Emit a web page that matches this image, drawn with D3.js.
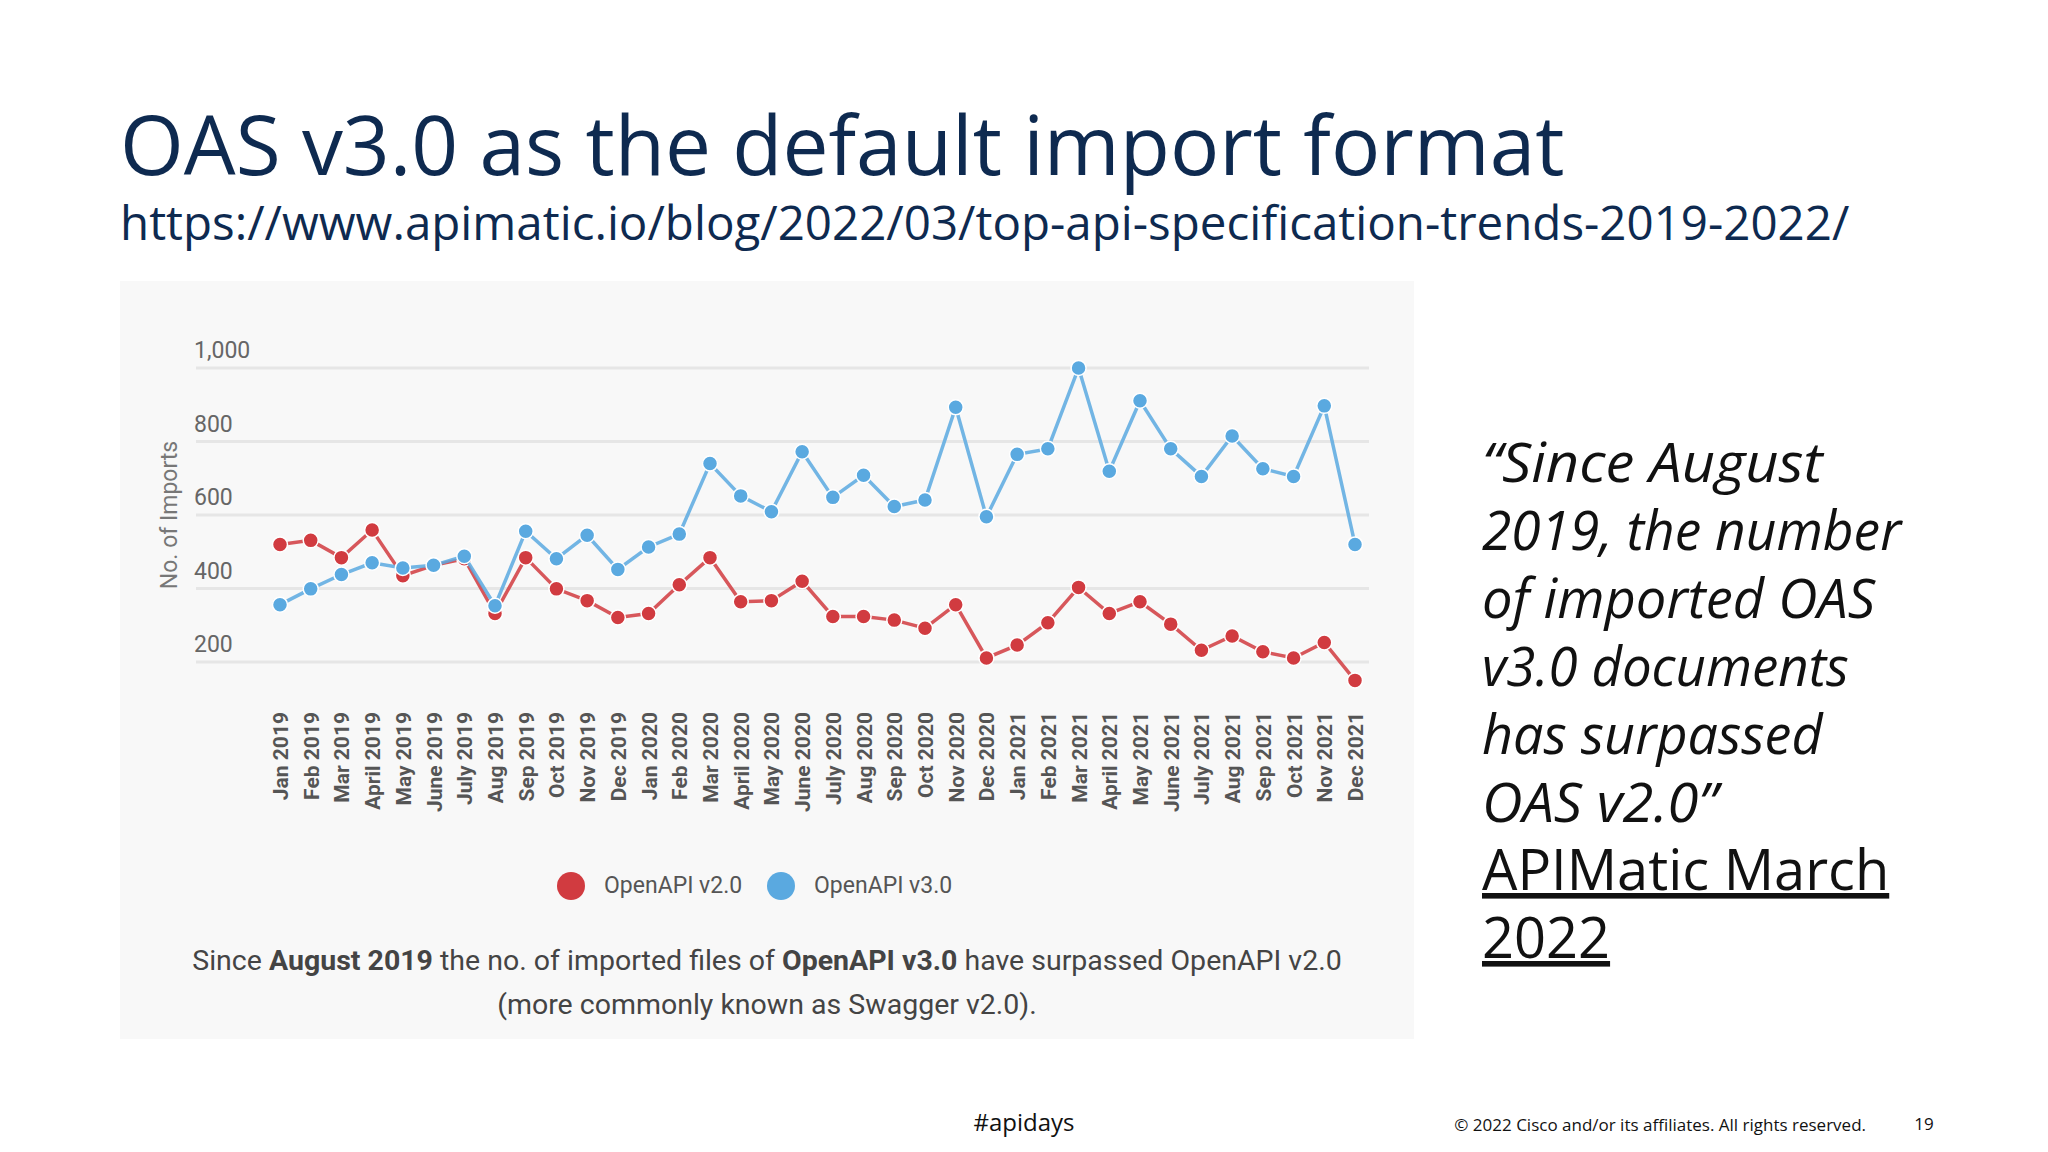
<!DOCTYPE html>
<html><head><meta charset="utf-8">
<script src="https://cdn.jsdelivr.net/npm/d3@7"></script>
<style>body{margin:0;background:#fff}</style>
</head><body>
<div id="vis"></div>
<script>
// chart data
let months = ['Jan 2019','Feb 2019','Mar 2019','April 2019','May 2019','June 2019','July 2019','Aug 2019','Sep 2019','Oct 2019','Nov 2019','Dec 2019',
    'Jan 2020','Feb 2020','Mar 2020','April 2020','May 2020','June 2020','July 2020','Aug 2020','Sep 2020','Oct 2020','Nov 2020','Dec 2020',
    'Jan 2021','Feb 2021','Mar 2021','April 2021','May 2021','June 2021','July 2021','Aug 2021','Sep 2021','Oct 2021','Nov 2021','Dec 2021'];
let v2 = [520,531,484,559,435,463,481,332,484,399,367,321,332,410,484,364,367,420,324,324,314,292,356,211,246,307,403,332,364,303,232,271,228,211,253,150];
let v3 = [356,399,438,470,456,463,488,353,556,481,545,452,513,548,740,652,609,772,648,708,623,641,893,595,765,780,1000,719,911,780,705,815,726,705,897,520];
let yTicks = [200,400,600,800,1000];
let quoteLines = ['\u201cSince August','2019, the number','of imported OAS','v3.0 documents','has surpassed','OAS v2.0\u201d'];

let W = 2048, H = 1152;
let svg = d3.select('#vis').append('svg').attr('width', W).attr('height', H)
    .style('font-family', '"Open Sans", "Noto Sans", sans-serif');

// title + url
svg.append('text').attr('x', 120).attr('y', 175).attr('font-size', 82).attr('fill', '#0e2a50').text('OAS v3.0 as the default import format');
svg.append('text').attr('x', 120).attr('y', 240).attr('font-size', 47.5).attr('fill', '#0e2a50')
    .text('https://www.apimatic.io/blog/2022/03/top-api-specification-trends-2019-2022/');

// chart panel
svg.append('rect').attr('x', 120).attr('y', 281).attr('width', 1294).attr('height', 758).attr('fill', '#f8f8f8');

let x = d3.scalePoint().domain(months).range([280, 1355]);
let y = d3.scaleLinear().domain([200, 1000]).range([662, 368]);

let g = svg.append('g').style('font-family', 'Roboto, sans-serif');
g.selectAll('.grid').data(yTicks).enter().append('line')
    .attr('x1', 196).attr('x2', 1369)
    .attr('y1', d => y(d)).attr('y2', d => y(d))
    .attr('stroke', '#e6e6e6').attr('stroke-width', 3);
g.selectAll('.yl').data(yTicks).enter().append('text')
    .attr('x', 194).attr('y', d => y(d) - 10)
    .attr('font-size', 23).attr('fill', '#666').text(d => d3.format(',')(d));
g.append('text').attr('transform', 'translate(177,515) rotate(-90)').attr('text-anchor', 'middle')
    .attr('font-size', 23).attr('fill', '#777').text('No. of Imports');

// month labels
g.selectAll('.xl').data(months).enter().append('text')
    .attr('transform', d => 'translate(' + (x(d) + 8) + ',712) rotate(-90)')
    .attr('text-anchor', 'end').attr('font-size', 21).attr('font-weight', 'bold').attr('fill', '#555')
    .text(d => d);

function series(vals, col) {
    let line = d3.line().x((d, i) => x(months[i])).y(d => y(d));
    g.append('path').datum(vals).attr('d', line).attr('fill', 'none')
        .attr('stroke', col).attr('stroke-width', 3.5).attr('opacity', 0.85);
    g.append('g').selectAll('circle').data(vals).enter().append('circle')
        .attr('cx', (d, i) => x(months[i])).attr('cy', d => y(d)).attr('r', 7.5)
        .attr('fill', col).attr('stroke', '#fff').attr('stroke-width', 1.5);
}
series(v2, '#d13b40');
series(v3, '#5aa9e0');

// legend
let legend = [['OpenAPI v2.0', '#d13b40', 571], ['OpenAPI v3.0', '#5aa9e0', 781]];
legend.forEach(function(l) {
    g.append('circle').attr('cx', l[2]).attr('cy', 886).attr('r', 14).attr('fill', l[1]);
    g.append('text').attr('x', l[2] + 33).attr('y', 893).attr('font-size', 23).attr('fill', '#555').text(l[0]);
});

// caption
let cap = g.append('text').attr('x', 767).attr('y', 970).attr('text-anchor', 'middle').attr('font-size', 28.5).attr('fill', '#444');
[['Since ', 400], ['August 2019', 700], [' the no. of imported files of ', 400], ['OpenAPI v3.0', 700], [' have surpassed OpenAPI v2.0', 400]]
    .forEach(p => cap.append('tspan').attr('font-weight', p[1]).text(p[0]));
g.append('text').attr('x', 767).attr('y', 1014).attr('text-anchor', 'middle').attr('font-size', 28.5).attr('fill', '#444')
    .text('(more commonly known as Swagger v2.0).');

// quote
svg.selectAll('.q').data(quoteLines).enter().append('text')
    .attr('x', 1482).attr('y', (d, i) => 482 + i * 68)
    .attr('font-size', 55).attr('font-style', 'italic').attr('fill', '#111')
    .attr('textLength', d => d.length * 26.2).attr('lengthAdjust', 'spacingAndGlyphs').text(d => d);
['APIMatic March', '2022'].forEach(function(t, i) {
    svg.append('text').attr('x', 1482).attr('y', 890 + i * 68).attr('font-size', 56)
        .attr('fill', '#111').attr('text-decoration', 'underline').text(t);
});

// footer
svg.append('text').attr('x', 1024).attr('y', 1131).attr('text-anchor', 'middle').attr('font-size', 24).attr('fill', '#111').text('#apidays');
svg.append('text').attr('x', 1866).attr('y', 1131).attr('text-anchor', 'end').attr('font-size', 17).attr('fill', '#111')
    .text('\u00a9 2022  Cisco and/or its affiliates. All rights reserved.');
svg.append('text').attr('x', 1924).attr('y', 1130).attr('text-anchor', 'middle').attr('font-size', 17).attr('fill', '#111').text('19');
</script>
</body></html>
